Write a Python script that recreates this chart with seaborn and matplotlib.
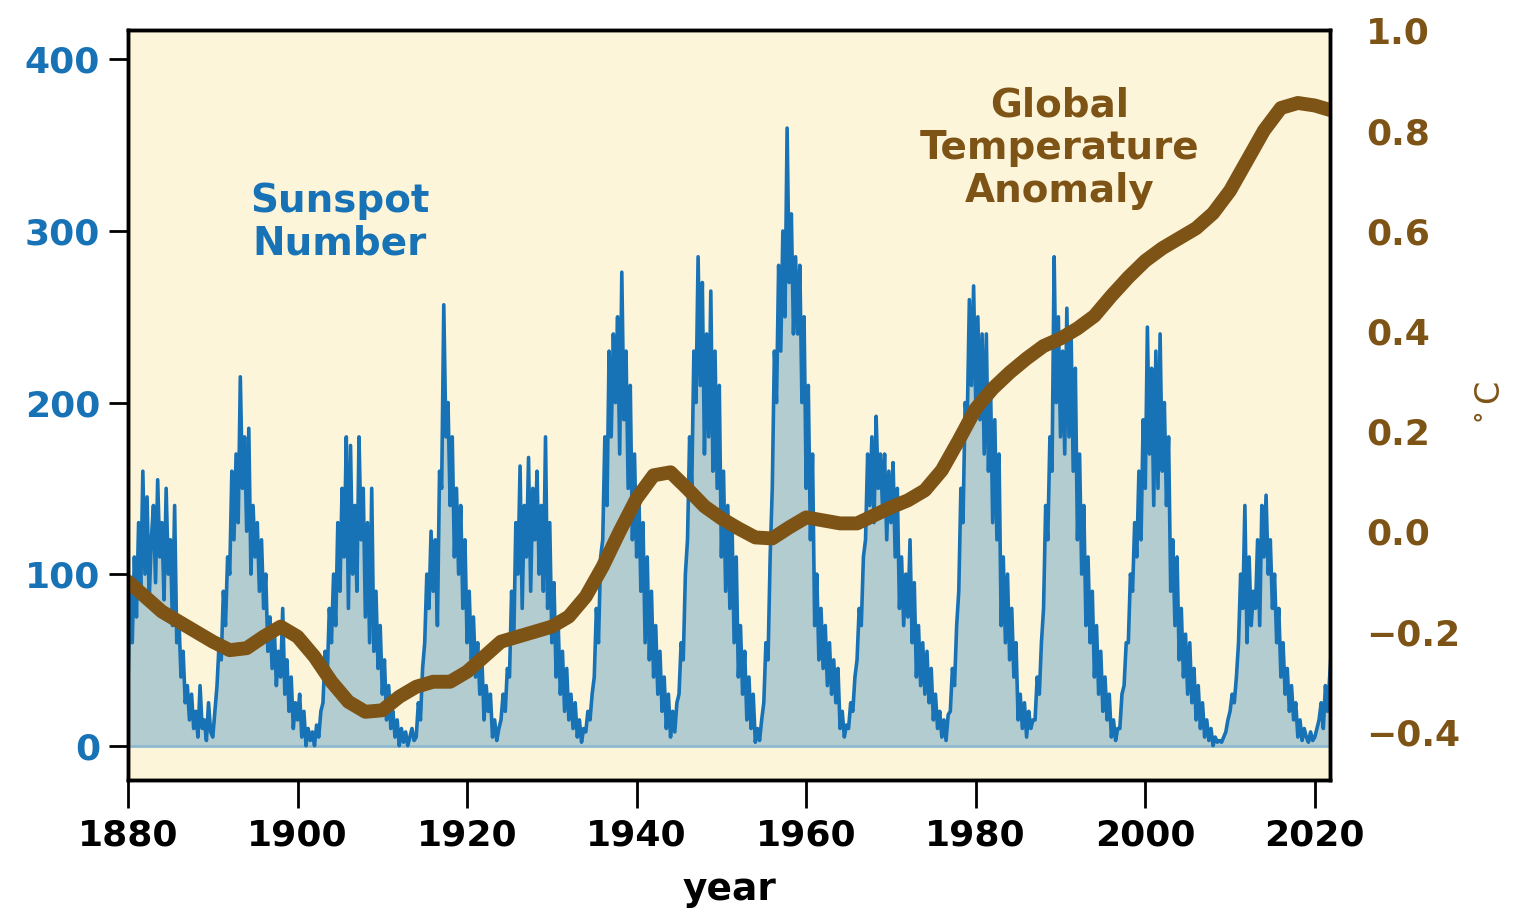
import numpy as np
import pandas as pd
import seaborn as sns
from matplotlib import pyplot as plt

# sunspot number at quarter-year steps from 1880.0
sunspots = [
    35, 95, 60, 110,  75, 130, 90, 160,  100, 145, 85, 120,  140, 95, 155, 110,
    130, 85, 150, 100,  120, 70, 140, 60,  75, 40, 55, 25,  35, 15, 30, 10,
    20, 5, 35, 10,  15, 3, 25, 8,
    5, 20, 35, 60,  50, 90, 70, 110,  100, 160, 120, 170,  130, 215, 150, 180,
    125, 185, 100, 140,  110, 130, 90, 120,  80, 100, 55, 75,  45, 70, 35, 55,
    40, 80, 30, 50,  20, 40, 10, 25,  15, 30, 5, 20,  0, 10, 3, 8,  0, 12, 5, 20,
    25, 55, 40, 80,  60, 100, 70, 130,  90, 150, 110, 180,  80, 175, 100, 140,
    90, 180, 120, 150,  75, 130, 60, 150,  55, 90, 45, 70,  30, 50, 15, 35,
    10, 20, 5, 15,  0, 10, 2, 8,  0, 5, 10, 3,
    5, 25, 15, 45,  60, 100, 80, 125,  90, 120, 70, 160,  150, 257, 180, 200,
    140, 180, 110, 150,  100, 140, 80, 120,  60, 90, 50, 75,  40, 60, 30, 50,
    15, 35, 20, 30,  5, 15, 3, 10,  15, 30, 20, 45,
    40, 90, 60, 130,  100, 163, 80, 140,  110, 168, 90, 150,  120, 160, 100, 140,
    90, 180, 80, 130,  60, 95, 40, 70,  30, 55, 20, 45,  15, 30, 10, 25,
    5, 15, 2, 10,  8, 20, 15, 30,
    40, 80, 60, 110,  120, 180, 140, 230,  180, 240, 200, 250,  170, 276, 190, 230,
    150, 210, 120, 170,  110, 150, 90, 130,  60, 110, 50, 90,  40, 70, 30, 55,
    20, 40, 10, 30,  5, 20, 8, 25,
    30, 60, 50, 100,  120, 180, 150, 230,  200, 285, 210, 270,  170, 240, 180, 265,
    160, 230, 150, 210,  110, 160, 90, 140,  80, 130, 60, 110,  40, 70, 30, 55,
    15, 40, 10, 30,  2, 10, 3, 15,
    25, 60, 50, 110,  150, 230, 200, 280,  230, 300, 250, 360,  270, 310, 240, 285,
    240, 280, 200, 250,  150, 210, 120, 170,  70, 100, 50, 80,  45, 70, 35, 60,
    30, 50, 25, 45,  10, 20, 5, 12,
    10, 25, 20, 40,  50, 80, 70, 110,  120, 170, 140, 180,  130, 192, 150, 170,
    140, 170, 120, 160,  130, 165, 110, 150,  80, 110, 70, 100,  75, 120, 60, 95,
    40, 70, 35, 60,  30, 55, 25, 45,  15, 30, 10, 20,  5, 15, 3, 18,
    20, 45, 35, 70,  90, 150, 130, 200,  190, 260, 210, 268,  200, 250, 190, 240,
    170, 240, 160, 210,  130, 190, 120, 170,  70, 110, 60, 100,  50, 80, 40, 60,
    15, 30, 10, 25,  5, 20, 10, 15,
    15, 40, 30, 60,  80, 140, 120, 180,  160, 285, 200, 250,  180, 230, 170, 255,
    180, 240, 160, 220,  120, 170, 100, 140,  70, 110, 60, 90,  40, 70, 30, 55,
    20, 40, 15, 30,  5, 15, 3, 10,
    10, 30, 35, 60,  60, 100, 90, 130,  110, 160, 120, 190,  150, 244, 170, 220,
    140, 230, 150, 240,  160, 200, 140, 180,  90, 120, 70, 110,  50, 80, 40, 65,
    30, 60, 25, 45,  15, 35, 10, 25,  5, 15, 3, 10,  0, 5, 2, 3,
    2, 5, 8, 15,  20, 30, 25, 40,  60, 100, 80, 140,  60, 110, 70, 90,
    80, 120, 70, 140,  110, 146, 100, 120,  80, 100, 60, 80,  40, 60, 30, 45,
    20, 35, 15, 25,  5, 15, 3, 10,  5, 2, 8, 3,  5, 10, 15, 25,  10, 35, 20, 40,
    60,
]
sunspot_years = 1880 + 0.25 * np.arange(len(sunspots))

# smoothed global temperature anomaly (deg C), every two years
temp_years = list(range(1880, 2023, 2))
temp_anomaly = [
    -0.10, -0.13, -0.16, -0.18, -0.20, -0.22, -0.237, -0.233, -0.21, -0.19,
    -0.21, -0.25, -0.30, -0.34, -0.36, -0.357, -0.33, -0.31, -0.30, -0.30,
    -0.28, -0.25, -0.22, -0.21, -0.20, -0.19, -0.17, -0.13, -0.07, 0.00,
    0.066, 0.112, 0.118, 0.085, 0.05, 0.026, 0.006, -0.012, -0.014, 0.008,
    0.028, 0.022, 0.016, 0.016, 0.032, 0.048, 0.062, 0.082, 0.122, 0.182,
    0.245, 0.285, 0.317, 0.345, 0.37, 0.385, 0.405, 0.43, 0.47, 0.507,
    0.54, 0.565, 0.585, 0.605, 0.635, 0.68, 0.74, 0.80, 0.845, 0.855,
    0.85, 0.84,
]

blue = '#1872b6'
brown = '#7d5316'

sns.set_style('ticks')
plt.rcParams['font.family'] = ['DejaVu Sans']
plt.rcParams['font.weight'] = 'bold'

sun_df = pd.DataFrame({'year': sunspot_years, 'sunspots': sunspots})
temp_df = pd.DataFrame({'year': temp_years, 'anomaly': temp_anomaly})

fig = plt.figure(figsize=(15.13, 9.19), dpi=100)
ax = fig.add_axes([0.0846, 0.1513, 0.7945, 0.8157])
ax.set_facecolor('#fdf5da')

ax.fill_between(sun_df['year'], 0, sun_df['sunspots'], color='#b3ccd0', lw=0)
ax.axhline(0, color='#8fb9cf', lw=2, zorder=1)
sns.lineplot(data=sun_df, x='year', y='sunspots', ax=ax, color=blue, lw=2.6)

ax.set_xlim(1880, 2021.8)
ax.set_ylim(-20, 417)
ax.set_yticks([0, 100, 200, 300, 400])
ax.set_xticks(range(1880, 2021, 20))
ax.set_xlabel('year', fontsize=27, fontweight='bold', labelpad=14, color='black')
ax.set_ylabel('')
ax.tick_params(axis='y', colors='black', labelcolor=blue, labelsize=26,
               length=14, width=2, pad=6)
ax.tick_params(axis='x', colors='black', labelsize=26, length=20, width=2, pad=8)
for lab in ax.get_xticklabels() + ax.get_yticklabels():
    lab.set_fontweight('bold')
for s in ax.spines.values():
    s.set_linewidth(2.5)
    s.set_color('black')

ax2 = ax.twinx()
sns.lineplot(data=temp_df, x='year', y='anomaly', ax=ax2, color=brown, lw=10,
             solid_capstyle='round', solid_joinstyle='round')
ax2.set_ylim(-0.496, 1.0)
ax2.set_yticks([-0.4, -0.2, 0.0, 0.2, 0.4, 0.6, 0.8, 1.0])
ax2.set_yticklabels(['\u22120.4', '\u22120.2', '0.0', '0.2', '0.4', '0.6', '0.8', '1.0'])
ax2.tick_params(axis='y', labelcolor=brown, labelsize=26, length=0, pad=26)
for lab in ax2.get_yticklabels():
    lab.set_fontweight('bold')
ax2.set_xlabel('')
ax2.set_ylabel('$^\\circ$C', color=brown, fontsize=24, fontweight='normal',
               labelpad=10)
for s in ax2.spines.values():
    s.set_linewidth(2.5)
    s.set_color('black')

ax.text(0.176, 0.744, 'Sunspot\nNumber', transform=ax.transAxes, color=blue,
        fontsize=28, fontweight='bold', ha='center', va='center',
        linespacing=1.15)
ax.text(0.775, 0.843, 'Global\nTemperature\nAnomaly', transform=ax.transAxes,
        color=brown, fontsize=28, fontweight='bold', ha='center', va='center',
        linespacing=1.15)

plt.savefig('out.png', dpi=100)
plt.close()
